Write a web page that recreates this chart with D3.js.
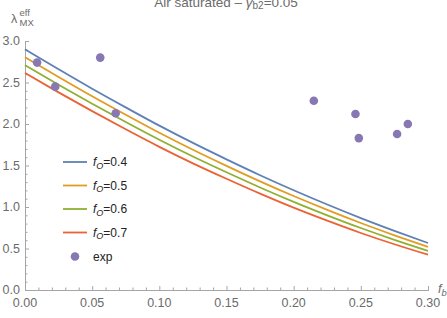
<!DOCTYPE html>
<html><head><meta charset="utf-8">
<script src="https://cdn.jsdelivr.net/npm/d3@7"></script>
<style>body{margin:0;background:#fff}svg{display:block}text{font-family:"Liberation Sans",Arial,sans-serif}</style>
</head><body><svg id="c" width="447" height="318"></svg>
<script>
const xs = [0,0.025,0.05,0.075,0.10,0.125,0.15,0.175,0.20,0.225,0.25,0.275,0.30];
const fo04 = [2.90,2.66,2.425,2.20,1.98,1.772,1.574,1.383,1.202,1.03,0.867,0.713,0.566];
const fo05 = [2.805,2.567,2.335,2.112,1.895,1.69,1.496,1.309,1.132,0.965,0.807,0.659,0.519];
const fo06 = [2.71,2.474,2.245,2.024,1.81,1.608,1.418,1.235,1.062,0.90,0.747,0.605,0.472];
const fo07 = [2.615,2.381,2.155,1.936,1.725,1.526,1.34,1.161,0.992,0.835,0.687,0.551,0.425];
const expX = [0.009,0.0225,0.056,0.0675,0.215,0.246,0.2485,0.277,0.285];
const expY = [2.74,2.45,2.80,2.13,2.28,2.12,1.83,1.88,2.00];
const seriesNames = ["0.4","0.5","0.6","0.7"];
const colors = ["#5E81B5","#E19C24","#8FB032","#EB6235"];
const expColor = "#8778B3";
const xTicks = [0,0.05,0.10,0.15,0.20,0.25,0.30];
const yTicks = [0,0.5,1.0,1.5,2.0,2.5,3.0];

const svg = d3.select("#c");
const x = d3.scaleLinear().domain([0,0.30]).range([25,428]);
const y = d3.scaleLinear().domain([0,3.0]).range([290,41]);
const axisCol = "#a6a6a6", labCol = "#6b6b6b";

const xMinor = d3.range(0,31).map(i=>i/100).filter(v=>Math.round(v*100)%5!==0);
const yMinor = d3.range(0,31).map(i=>i/10).filter(v=>Math.round(v*10)%5!==0);

const gx = svg.append("g").attr("transform","translate(0,290)");
gx.call(d3.axisTop(x).tickValues(xTicks).tickSize(4).tickFormat(""));
gx.append("g").call(d3.axisTop(x).tickValues(xMinor).tickSize(2.5).tickFormat(""));
gx.selectAll("path").attr("stroke",axisCol);
gx.selectAll("line").attr("stroke",axisCol);
svg.append("g").selectAll("text").data(xTicks).join("text")
  .attr("x",d=>x(d)).attr("y",306.5).attr("text-anchor","middle")
  .attr("font-size",12.5).attr("fill",labCol).text(d=>d3.format(".2f")(d));

const gy = svg.append("g").attr("transform","translate(25,0)");
gy.call(d3.axisRight(y).tickValues(yTicks).tickSize(4).tickFormat(""));
gy.append("g").call(d3.axisRight(y).tickValues(yMinor).tickSize(2.5).tickFormat(""));
gy.selectAll("path").attr("stroke",axisCol);
gy.selectAll("line").attr("stroke",axisCol);
svg.append("g").selectAll("text").data(yTicks).join("text")
  .attr("x",20).attr("y",d=>y(d)+4).attr("text-anchor","end")
  .attr("font-size",12.5).attr("fill",labCol).text(d=>d3.format(".1f")(d));

const line = d3.line().x((d,i)=>x(xs[i])).y(d=>y(d)).curve(d3.curveMonotoneX);
[fo04,fo05,fo06,fo07].forEach((s,k)=>{
  svg.append("path").attr("d",line(s)).attr("fill","none")
    .attr("stroke",colors[k]).attr("stroke-width",1.8);
});
svg.append("g").selectAll("circle").data(expX).join("circle")
  .attr("cx",d=>x(d)).attr("cy",(d,i)=>y(expY[i])).attr("r",4.3).attr("fill",expColor);

const lg = svg.append("g");
const rowY = [162,185.5,209,232.5,256.5];
seriesNames.forEach((n,k)=>{
  lg.append("line").attr("x1",63).attr("x2",87).attr("y1",rowY[k]).attr("y2",rowY[k])
    .attr("stroke",colors[k]).attr("stroke-width",1.8);
  const t = lg.append("text").attr("x",93).attr("y",rowY[k]+4).attr("font-size",12).attr("fill","#222");
  t.append("tspan").attr("font-style","italic").text("f");
  t.append("tspan").attr("font-style","italic").attr("font-size",9).attr("dy",2.5).text("O");
  t.append("tspan").attr("dy",-2.5).text("="+n);
});
lg.append("circle").attr("cx",75).attr("cy",rowY[4]).attr("r",4.3).attr("fill",expColor);
lg.append("text").attr("x",93).attr("y",rowY[4]+4).attr("font-size",12).attr("fill","#222").text("exp");

const tt = svg.append("text").attr("x",226).attr("y",7).attr("text-anchor","middle")
  .attr("font-size",13.5).attr("fill",labCol);
tt.append("tspan").text("Air saturated \u2013 ");
tt.append("tspan").attr("font-style","italic").text("\u03b3");
tt.append("tspan").attr("font-size",10).attr("dy",2).text("b2");
tt.append("tspan").attr("dy",-2).text("=0.05");

svg.append("text").attr("x",11).attr("y",23).attr("font-size",12.5).attr("fill",labCol).text("\u03bb");
svg.append("text").attr("x",19.5).attr("y",16).attr("font-size",9.5).attr("fill",labCol).text("eff");
svg.append("text").attr("x",19.5).attr("y",26).attr("font-size",9.5).attr("fill",labCol).text("MX");

const xl = svg.append("text").attr("x",438).attr("y",293).attr("font-size",12.5).attr("fill",labCol);
xl.append("tspan").attr("font-style","italic").text("f");
xl.append("tspan").attr("font-style","italic").attr("font-size",9.5).attr("dy",3).text("b");
</script></body></html>
